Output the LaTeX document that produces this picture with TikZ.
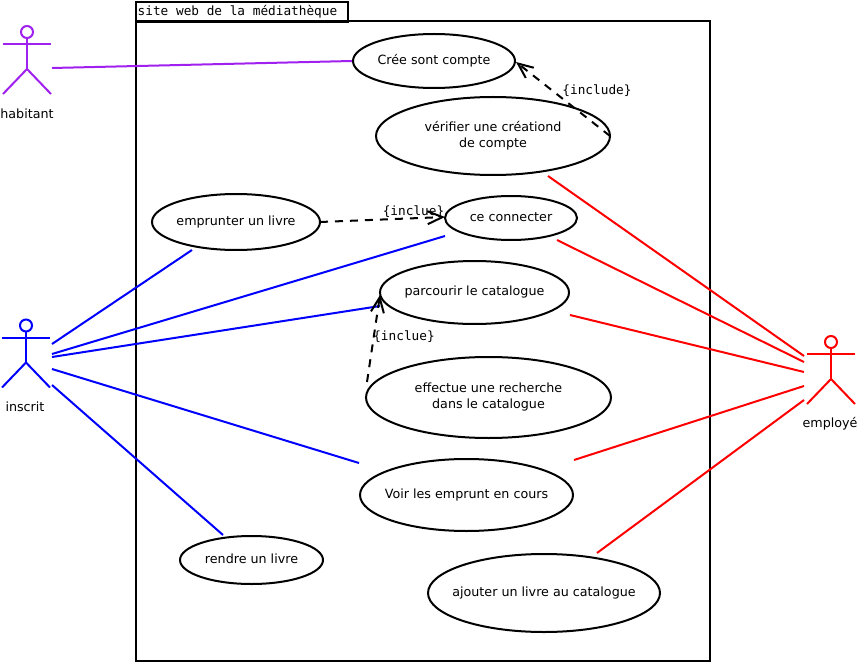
\documentclass[tikz,border=0pt]{standalone}
\usepackage{fontspec}
\setmainfont{DejaVu Sans}
\setmonofont{DejaVu Sans Mono}
\usetikzlibrary{arrows.meta,shapes.geometric}
\definecolor{hab}{RGB}{160,32,240}
\definecolor{ins}{RGB}{0,0,255}
\definecolor{emp}{RGB}{255,0,0}
\tikzset{
  uc/.style={draw=black,line width=2pt,ellipse,inner sep=0pt,fill=none,font=\fontsize{12.7pt}{16pt}\selectfont},
  actorlabel/.style={font=\fontsize{12.7pt}{14pt}\selectfont,inner sep=0pt},
  mono/.style={font=\ttfamily\fontsize{12.75pt}{15pt}\selectfont,inner sep=0pt},
  assoc/.style={line width=2pt},
  incl/.style={line width=2pt,black,dash pattern=on 8pt off 7pt,-{Straight Barb[length=15pt,width=13pt,line width=2pt]}},
}
\newcommand{\uct}[1]{\makebox[0pt]{\begin{tabular}{@{}c@{}}#1\end{tabular}}}
\newcommand{\stickman}[3]{% x, y of head centre, colour
  \draw[line width=2pt,#3] (#1,#2) circle (6);
  \draw[line width=2pt,#3] (#1,#2+6) -- (#1,#2+37);
  \draw[line width=2pt,#3] (#1-24,#2+12) -- (#1+24,#2+12);
  \draw[line width=2pt,#3] (#1-24,#2+62) -- (#1,#2+37) -- (#1+24,#2+62);
}
\begin{document}
\begin{tikzpicture}[x=1pt,y=-1pt]
\useasboundingbox (0,0) rectangle (859,663);
\fill[white] (0,0) rectangle (859,663);
% frame
\node[draw,line width=2pt,minimum width=574pt,minimum height=640pt,anchor=north west,inner sep=0pt] (frame) at (135.2,20.2) {};
\node[draw,line width=2pt,minimum width=212pt,minimum height=20pt,anchor=north west,inner sep=0pt] (tab) at (135.2,0.7) {};
\node[mono,anchor=west] (tabtext) at (137.5,11.5) {site web de la médiathèque};
% use cases
\node[uc,minimum width=162pt,minimum height=54pt] (cree) at (434,61) {\uct{Crée sont compte}};
\node[uc,minimum width=234pt,minimum height=78pt] (verif) at (493,136) {\uct{vérifier une créationd\\de compte}};
\node[uc,minimum width=132pt,minimum height=44pt] (conn) at (511,218) {\uct{ce connecter}};
\node[uc,minimum width=168pt,minimum height=56pt] (empr) at (236,222) {\uct{emprunter un livre}};
\node[uc,minimum width=189pt,minimum height=63pt] (parc) at (474.5,292.5) {\uct{parcourir le catalogue}};
\node[uc,minimum width=245pt,minimum height=81pt] (rech) at (488.5,397.5) {\uct{effectue une recherche\\dans le catalogue}};
\node[uc,minimum width=213pt,minimum height=72pt] (voir) at (466.5,495) {\uct{Voir les emprunt en cours}};
\node[uc,minimum width=143pt,minimum height=48pt] (rendre) at (251.5,560) {\uct{rendre un livre}};
\node[uc,minimum width=232pt,minimum height=78pt] (ajout) at (544,593) {\uct{ajouter un livre au catalogue}};
% actors
\stickman{27}{32}{hab}
\stickman{26}{325.5}{ins}
\stickman{831}{342}{emp}
\node[actorlabel] (lhab) at (27,113.5) {habitant};
\node[actorlabel] (lins) at (25,406.5) {inscrit};
\node[actorlabel] (lemp) at (830,423.5) {employé};
% free ends
\coordinate (h1) at (52,68);
\coordinate (i1) at (52,344);
\coordinate (i2) at (52,354);
\coordinate (i3) at (52,357);
\coordinate (i4) at (52,369);
\coordinate (i5) at (52,385);
\coordinate (e1) at (804,356);
\coordinate (e2) at (804,362);
\coordinate (e3) at (804,372);
\coordinate (e4) at (804,386);
\coordinate (e5) at (804,400);
\coordinate (empS) at (192,250);
\coordinate (connSW) at (445,236);
\coordinate (parcW) at (380,306);
\coordinate (voirNW) at (359,463);
\coordinate (rendreN) at (223,535);
\coordinate (verifS) at (548,176);
\coordinate (connSE) at (557,240);
\coordinate (parcE) at (570,315);
\coordinate (voirNE) at (574,460);
\coordinate (ajoutN) at (597,553);
\coordinate (rechNW) at (367,382);
\coordinate (parcWt) at (380,295);
\coordinate (creeE) at (516,62);
\coordinate (verifE) at (610,136);
\coordinate (emprE) at (320,222);
\coordinate (connW) at (445,217);
% associations
\draw[assoc,hab] (h1) -- (cree.west);
\draw[assoc,ins] (i1) -- (empS);
\draw[assoc,ins] (i2) -- (connSW);
\draw[assoc,ins] (i3) -- (parcW);
\draw[assoc,ins] (i4) -- (voirNW);
\draw[assoc,ins] (i5) -- (rendreN);
\draw[assoc,emp] (e1) -- (verifS);
\draw[assoc,emp] (e2) -- (connSE);
\draw[assoc,emp] (e3) -- (parcE);
\draw[assoc,emp] (e4) -- (voirNE);
\draw[assoc,emp] (e5) -- (ajoutN);
% includes
\draw[incl] (verifE) -- (creeE);
\draw[incl] (emprE) -- (connW);
\draw[incl] (rechNW) -- (parcWt);
\node[mono] (l1) at (597,90.5) {\{include\}};
\node[mono] (l2) at (413.5,211.5) {\{inclue\}};
\node[mono] (l3) at (404,336.5) {\{inclue\}};
\end{tikzpicture}
\end{document}
